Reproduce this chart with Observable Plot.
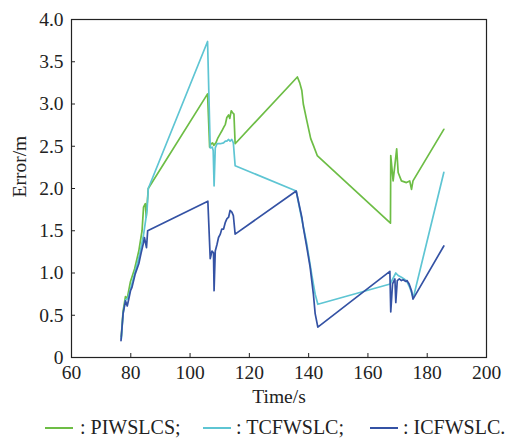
<!DOCTYPE html>
<html>
<head>
<meta charset="utf-8">
<script src="https://cdn.jsdelivr.net/npm/d3@7"></script>
<script src="https://cdn.jsdelivr.net/npm/@observablehq/plot@0.6"></script>
<style>
  body { margin: 0; background: #fff; }
  #wrap { position: relative; width: 516px; }
  #legend { position: relative; width: 516px; height: 30px; font-family: "Liberation Serif", "Times New Roman", serif; font-size: 20px; color: #222; }
  #legend .ln { position: absolute; top: 17px; width: 28px; height: 0; border-top: 2px solid; }
  #legend .tx { position: absolute; top: 6px; white-space: pre; line-height: 22px; }
</style>
</head>
<body>
<div id="wrap">
  <div id="chart"></div>
  <div id="legend"></div>
</div>
<script>
// Data
const seriesNames = ["PIWSLCS", "TCFWSLC", "ICFWSLC"];
const seriesColors = ["#6dbd45", "#5ec5d3", "#3452a4"];

const piTime = [76.8, 77.4, 78.2, 78.8, 79.9, 81.3, 82.7, 83.8, 84.3, 84.9, 85.2, 85.9, 105.9, 106.6, 107.1, 107.6, 108.0, 108.7, 109.4, 110.2, 110.7, 111.3, 111.9, 112.4, 113.0, 113.4, 113.9, 114.3, 114.8, 115.2, 136.2, 137.0, 137.7, 138.2, 139.4, 140.7, 141.6, 142.9, 167.6, 167.7, 168.5, 169.7, 170.2, 171.3, 173.0, 174.1, 174.7, 175.2, 185.6];
const piError = [0.25, 0.55, 0.72, 0.70, 0.90, 1.05, 1.26, 1.50, 1.78, 1.82, 1.66, 2.00, 3.12, 2.49, 2.53, 2.54, 2.51, 2.54, 2.60, 2.65, 2.68, 2.72, 2.76, 2.84, 2.87, 2.83, 2.92, 2.90, 2.88, 2.53, 3.32, 3.25, 3.16, 3.00, 2.80, 2.59, 2.51, 2.39, 1.59, 2.39, 2.09, 2.47, 2.19, 2.09, 2.07, 2.09, 1.99, 2.09, 2.70];

const tcTime = [76.8, 77.4, 78.2, 79.0, 80.0, 81.5, 83.0, 84.3, 85.0, 85.5, 85.9, 105.9, 106.8, 107.5, 107.8, 108.1, 108.5, 109.1, 110.2, 111.3, 111.9, 112.4, 113.0, 113.5, 114.1, 114.6, 115.2, 135.8, 137.1, 138.2, 139.4, 141.0, 142.2, 143.1, 167.5, 169.4, 170.2, 171.3, 172.2, 173.0, 174.1, 175.2, 175.6, 185.6];
const tcError = [0.22, 0.52, 0.68, 0.70, 0.82, 1.02, 1.22, 1.45, 1.62, 1.75, 2.00, 3.74, 2.48, 2.49, 2.45, 2.03, 2.48, 2.53, 2.53, 2.54, 2.56, 2.56, 2.58, 2.56, 2.58, 2.54, 2.27, 1.97, 1.74, 1.55, 1.34, 0.99, 0.75, 0.63, 0.87, 1.00, 0.97, 0.95, 0.93, 0.91, 0.83, 0.72, 0.75, 2.19];

const icTime = [76.7, 77.4, 78.2, 78.8, 79.3, 79.9, 80.4, 81.5, 82.7, 83.5, 84.3, 84.6, 85.3, 85.7, 106.0, 106.8, 107.4, 107.9, 108.1, 108.5, 109.1, 109.6, 110.2, 110.7, 111.3, 111.9, 112.4, 113.0, 113.5, 114.1, 114.6, 115.2, 135.8, 137.7, 138.2, 139.4, 140.5, 141.6, 142.2, 143.1, 167.4, 167.7, 168.3, 169.1, 169.4, 169.9, 170.6, 171.3, 171.9, 172.8, 173.2, 173.9, 174.7, 175.2, 185.6];
const icError = [0.20, 0.52, 0.67, 0.61, 0.69, 0.79, 0.83, 0.99, 1.11, 1.24, 1.36, 1.42, 1.30, 1.50, 1.85, 1.17, 1.26, 1.24, 0.79, 1.26, 1.34, 1.42, 1.46, 1.52, 1.52, 1.60, 1.64, 1.66, 1.74, 1.72, 1.68, 1.46, 1.97, 1.66, 1.54, 1.30, 1.07, 0.75, 0.52, 0.36, 1.02, 0.54, 0.87, 0.93, 0.65, 0.91, 0.93, 0.91, 0.92, 0.90, 0.91, 0.87, 0.79, 0.69, 1.32];

const xTicks = [60, 80, 100, 120, 140, 160, 180, 200];
const yTicks = [0, 0.5, 1.0, 1.5, 2.0, 2.5, 3.0, 3.5, 4.0];
const xLabel = "Time/s";
const yLabel = "Error/m";

const series = [[piTime, piError], [tcTime, tcError], [icTime, icError]];
const font = "Liberation Serif, Times New Roman, serif";

const chart = Plot.plot({
  width: 516,
  height: 410,
  marginLeft: 71,
  marginRight: 30,
  marginTop: 19,
  marginBottom: 53,
  style: { fontFamily: font, fontSize: "19px", color: "#222", background: "#fff" },
  x: { domain: [60, 200] },
  y: { domain: [0, 4] },
  marks: [
    ...series.map(([t, e], i) => Plot.line(t, { x: t, y: e, stroke: seriesColors[i], strokeWidth: 1.7 })),
    Plot.frame({ stroke: "#222", strokeWidth: 1.2 }),
    Plot.axisX(xTicks, { tickSize: -4, tickPadding: 12, fontSize: 19.5, label: null, stroke: "#222" }),
    Plot.axisY(yTicks, { tickSize: -4, tickPadding: 12, fontSize: 19.5, label: null, stroke: "#222",
      tickFormat: d => d === 0 ? "0" : d.toFixed(1) }),
    Plot.text([xLabel], { frameAnchor: "bottom", dy: 45, fontSize: 19.5, fill: "#222" }),
    Plot.text([yLabel], { frameAnchor: "left", dx: -52, dy: 9, rotate: -90, fontSize: 19.5, fill: "#222" })
  ]
});
document.getElementById("chart").appendChild(chart);

// Legend below the SVG
const legend = document.getElementById("legend");
const lineLeft = [45, 203, 370];
const textLeft = [80, 236, 403];
seriesNames.forEach((name, i) => {
  const ln = document.createElement("div");
  ln.className = "ln";
  ln.style.left = lineLeft[i] + "px";
  ln.style.borderTopColor = seriesColors[i];
  legend.appendChild(ln);
  const tx = document.createElement("div");
  tx.className = "tx";
  tx.style.left = textLeft[i] + "px";
  tx.textContent = ": " + name + (i < seriesNames.length - 1 ? ";" : ".");
  legend.appendChild(tx);
});
</script>
</body>
</html>
